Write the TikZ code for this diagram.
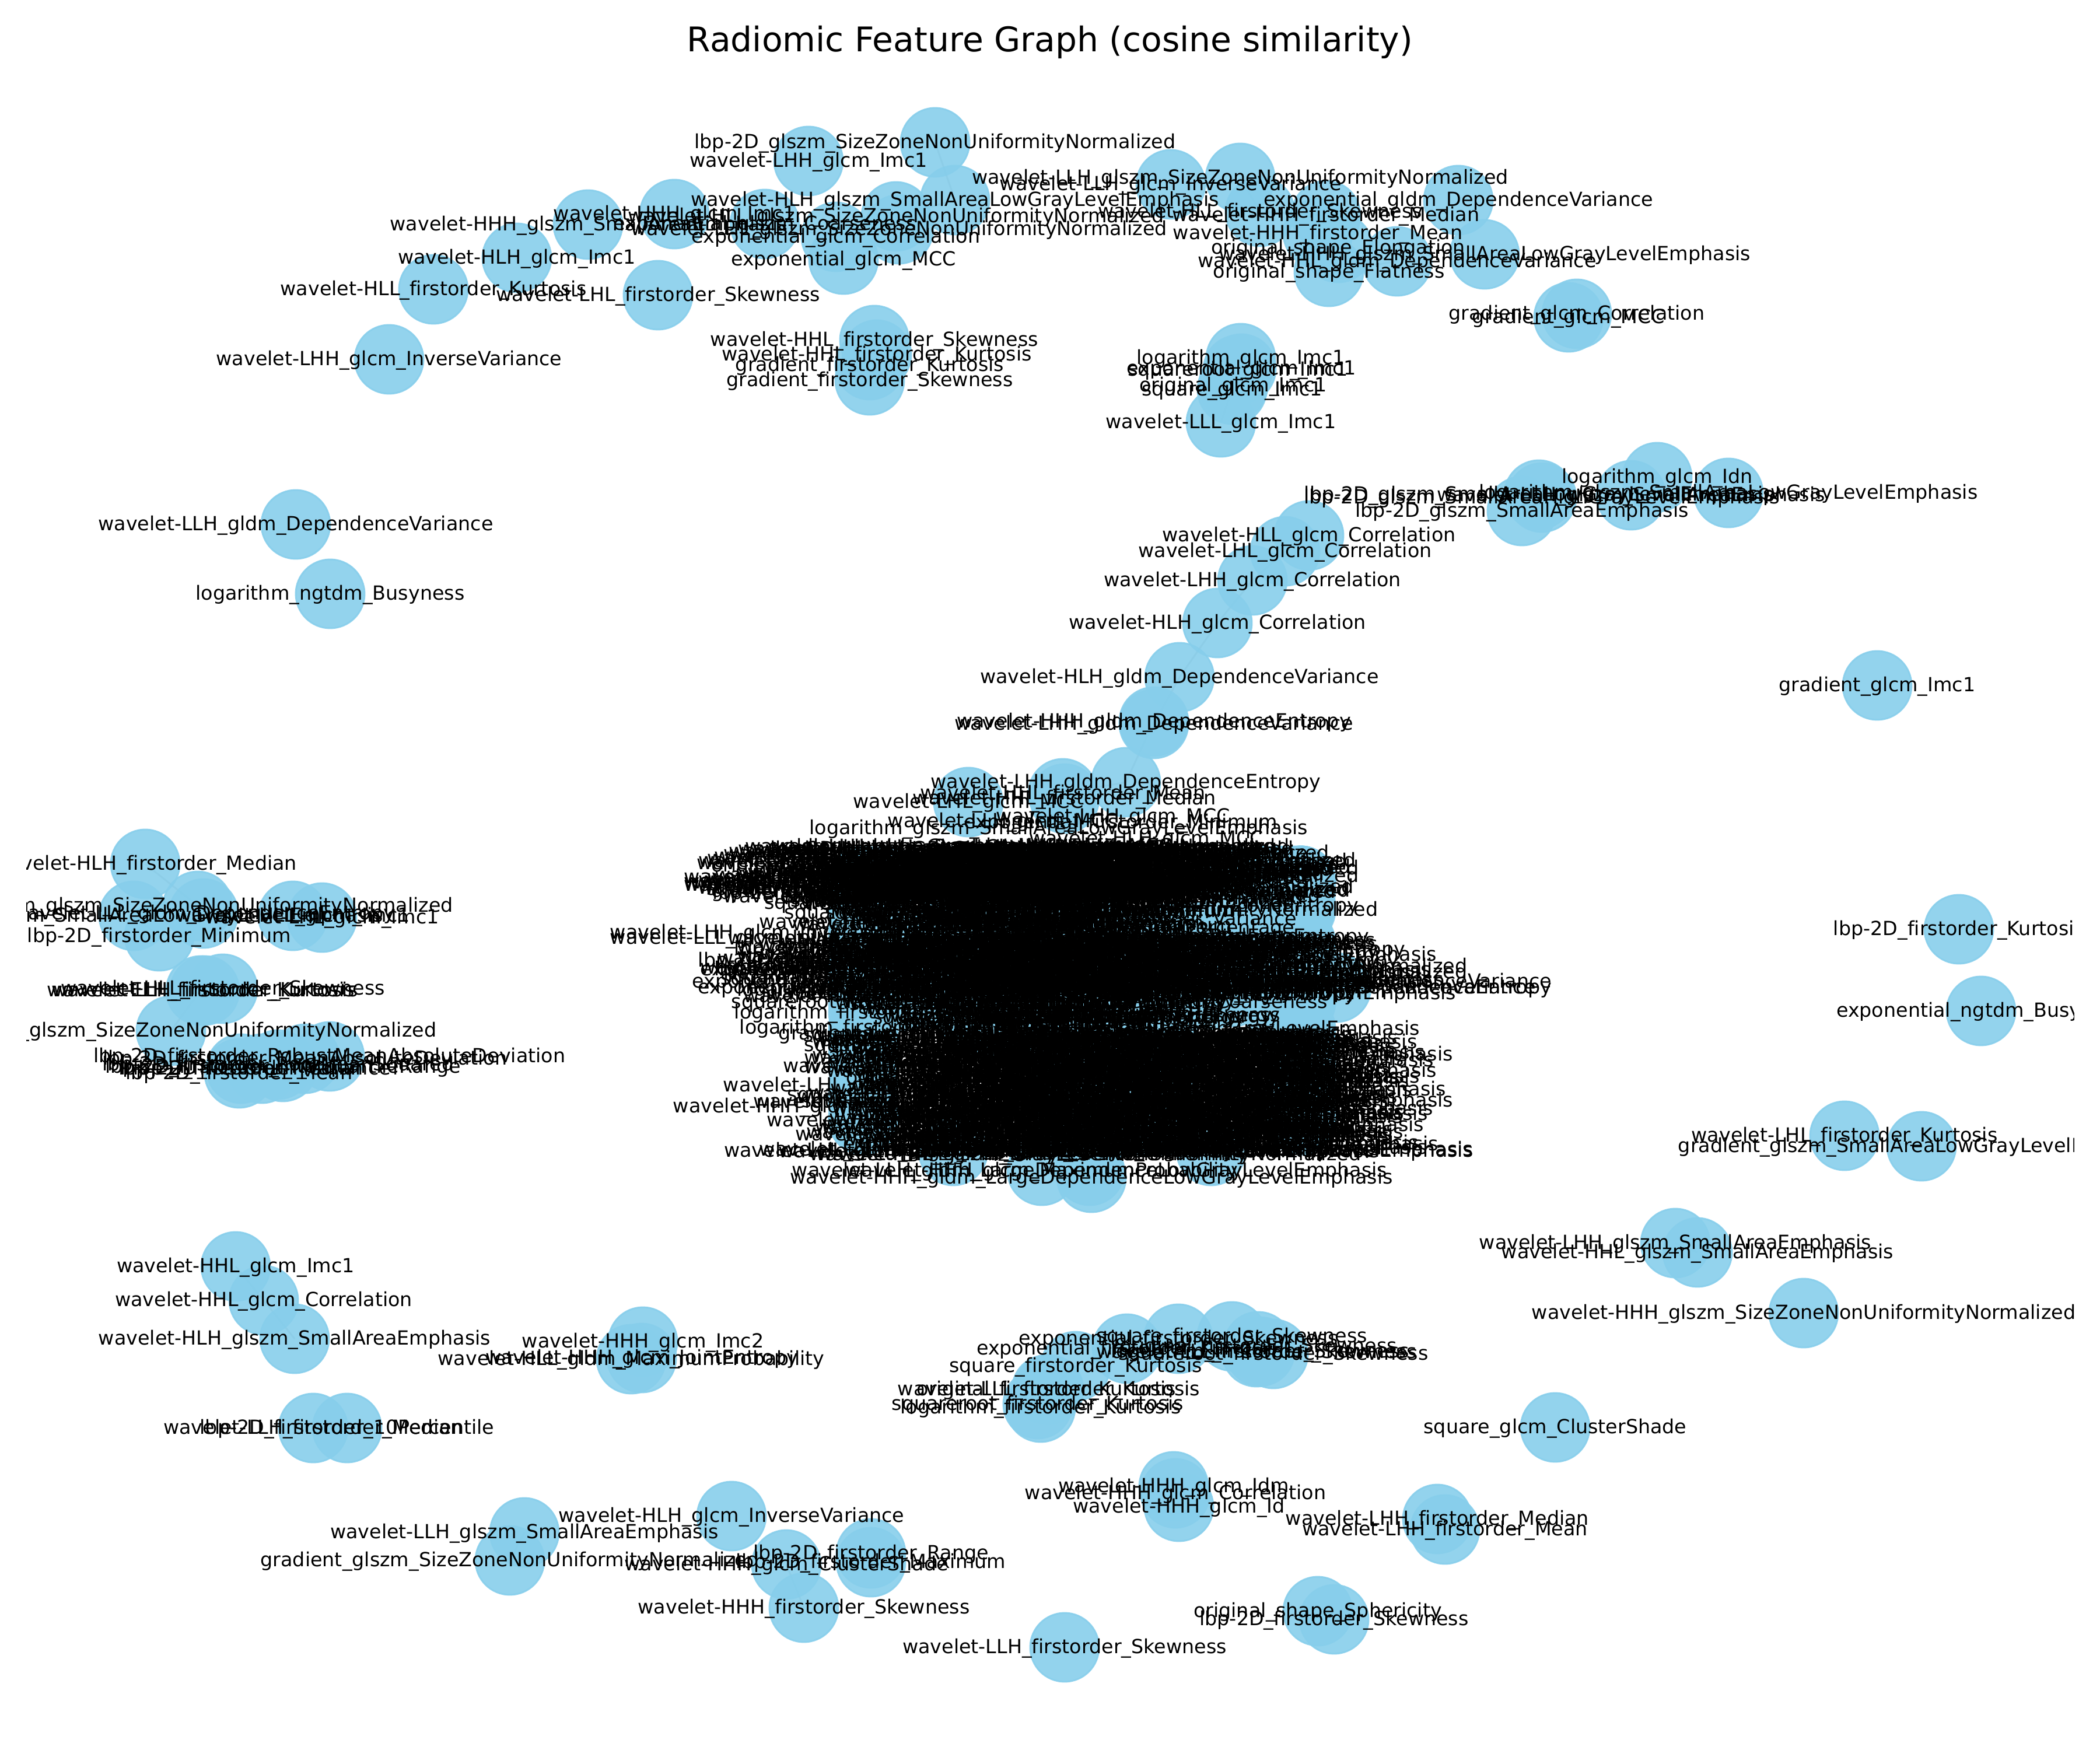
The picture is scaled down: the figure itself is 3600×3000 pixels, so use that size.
\documentclass[tikz,border=0pt]{standalone}
\usepackage{fontspec}
\usetikzlibrary{calc}
\newfontfamily\lblf[Ligatures=NoCommon]{DejaVu Sans}
\newcommand\lblfont{\lblf\fontsize{8.03}{9}\selectfont}
\newcommand\ttlfont{\lblf\fontsize{14.05}{16}\selectfont}
\catcode`\_=12
\definecolor{skyb}{HTML}{87CEEB}
\pgfdeclarelayer{edges}
\pgfsetlayers{edges,main}
\tikzset{
  ncirc/.style={circle,minimum size=28.3bp,inner sep=0pt,fill=skyb,draw=skyb,line width=0.7bp,fill opacity=.9,draw opacity=.9},
  lbl/.style={font=\lblfont,inner sep=0pt,text=black,text height=.76em,text depth=.24em},
  edgeline/.style={draw=gray,line width=0.7bp,opacity=.45},
}
% id/x/y/text : nodes whose position is known
\def\mainlist{%
a1/1603/244/lbp-2D_glszm_SizeZoneNonUniformityNormalized,
a2/1386/276/wavelet-LHH_glcm_Imc1,
a3/1637/343/wavelet-HLH_glszm_SmallAreaLowGrayLevelEmphasis,
a4/1156/367/wavelet-HHH_glcm_Imc1,
a5/1008/385/wavelet-HHH_glszm_SmallAreaEmphasis,
a6/886/442/wavelet-HLH_glcm_Imc1,
a7/743/496/wavelet-HLL_firstorder_Kurtosis,
a8/1128/506/wavelet-LHL_firstorder_Skewness,
a9/667/616/wavelet-LHH_glcm_InverseVariance,
a10/1446/445/exponential_glcm_MCC,
a11/1536/371/wavelet-HLL_glszm_SizeZoneNonUniformityNormalized,
a12/1541/393/wavelet-LHL_glszm_SizeZoneNonUniformityNormalized,
a13/1311/384/exponential_glszm_Coarseness,
a14/1433/406/exponential_glcm_Correlation,
c1/1499/583/wavelet-HHL_firstorder_Skewness,
c2/1503/608/wavelet-HHL_firstorder_Kurtosis,
c3/1491/626/gradient_firstorder_Kurtosis,
c4/1491/652/gradient_firstorder_Skewness,
d1/2126/305/wavelet-LLH_glszm_SizeZoneNonUniformityNormalized,
d2/2007/316/wavelet-LLH_glcm_InverseVariance,
d3/2500/343/exponential_gldm_DependenceVariance,
d4/2160/363/wavelet-HLL_firstorder_Skewness,
d5/2273/369/wavelet-HHH_firstorder_Median,
d6/2259/400/wavelet-HHH_firstorder_Mean,
d7/2294/425/original_shape_Elongation,
d8/2545/436/wavelet-HHH_glszm_SmallAreaLowGrayLevelEmphasis,
d9/2395/448/wavelet-HHL_gldm_DependenceVariance,
d10/2278/466/original_shape_Flatness,
e1/2703/538/gradient_glcm_Correlation,
e2/2689/544/gradient_glcm_MCC,
f1/2127/614/logarithm_glcm_Imc1,
f2/2128/632/exponential_glcm_Imc1,
f3/2122/634/squareroot_glcm_Imc1,
f4/2114/661/original_glcm_Imc1,
f5/2112/668/square_glcm_Imc1,
f6/2093/724/wavelet-LLL_glcm_Imc1,
g1/2841/818/logarithm_glcm_Idn,
g2/2963/845/logarithm_glszm_SmallAreaLowGrayLevelEmphasis,
g3/2643/853/lbp-2D_glszm_SmallAreaHighGrayLevelEmphasis,
g4/2638/848/lbp-2D_glszm_SmallAreaLowGrayLevelEmphasis,
g5/2796/849/wavelet-LLH_glszm_SmallAreaEmphasis,
g6/2609/876/lbp-2D_glszm_SmallAreaEmphasis,
h1/2244/918/wavelet-HLL_glcm_Correlation,
h2/2203/945/wavelet-LHL_glcm_Correlation,
h3/2147/995/wavelet-LHH_glcm_Correlation,
h4/2087/1068/wavelet-HLH_glcm_Correlation,
h5/2022/1161/wavelet-HLH_gldm_DependenceVariance,
h6/1978/1241/wavelet-LHH_gldm_DependenceVariance,
h6b/1978/1237/wavelet-HHH_gldm_DependenceEntropy,
h7/1930/1341/wavelet-LHH_gldm_DependenceEntropy,
h8/1822/1360/wavelet-HHL_firstorder_Mean,
h9/1825/1369/wavelet-HHL_firstorder_Median,
i1/507/899/wavelet-LLH_gldm_DependenceVariance,
i2/566/1018/logarithm_ngtdm_Busyness,
j1/3218/1175/gradient_glcm_Imc1,
j2/3358/1593/lbp-2D_firstorder_Kurtosis,
j3/3396/1733/exponential_ngtdm_Busyness,
j4/3162/1947/wavelet-LHL_firstorder_Kurtosis,
j5/3294/1965/gradient_glszm_SmallAreaLowGrayLevelEmphasis,
j6/2872/2131/wavelet-LHH_glszm_SmallAreaEmphasis,
j7/2910/2147/wavelet-HHL_glszm_SmallAreaEmphasis,
j8/3092/2251/wavelet-HHH_glszm_SizeZoneNonUniformityNormalized,
j9/2666/2447/square_glcm_ClusterShade,
j10/2464/2604/wavelet-LHH_firstorder_Median,
j11/2477/2622/wavelet-LHH_firstorder_Mean,
j12/2259/2762/original_shape_Sphericity,
j13/2287/2776/lbp-2D_firstorder_Skewness,
k1/249/1481/wavelet-HLH_firstorder_Median,
k2/229/1570/logarithm_glszm_SmallAreaLowGrayLevelEmphasis,
k3/339/1553/logarithm_glszm_SizeZoneNonUniformityNormalized,
k4/349/1566/wavelet-LLL_gldm_DependenceEntropy,
k5/502/1570/wavelet-HLL_glcm_Imc1,
k6/552/1573/wavelet-LHL_glcm_Imc1,
k7/273/1605/lbp-2D_firstorder_Minimum,
k8/382/1695/wavelet-HLL_firstorder_Skewness,
k9/351/1698/wavelet-LLH_firstorder_Kurtosis,
k10/344/1698/wavelet-ELH_firstorder_Kurtosis,
k11/293/1767/exponential_glszm_SizeZoneNonUniformityNormalized,
k12/565/1811/lbp-2D_firstorder_RobustMeanAbsoluteDeviation,
k13/523/1815/lbp-2D_firstorder_MeanAbsoluteDeviation,
k14/485/1829/lbp-2D_firstorder_InterquartileRange,
k15/477/1825/lbp-2D_firstorder_RootMeanSquared,
k16/449/1832/lbp-2D_firstorder_Variance,
k17/413/1832/lbp-2D_firstorder_Median,
k18/410/1840/lbp-2D_firstorder_Mean,
m1/404/2171/wavelet-HHL_glcm_Imc1,
m2/452/2229/wavelet-HHL_glcm_Correlation,
m3/505/2295/wavelet-HLH_glszm_SmallAreaEmphasis,
m4/1102/2300/wavelet-HHH_glcm_Imc2,
m5/1082/2330/wavelet-HLL_gldm_MaximumProbability,
m6/1100/2328/wavelet-HHH_glcm_JointEntropy,
m7/595/2448/lbp-2D_firstorder_10Percentile,
m8/537/2448/wavelet-LLH_firstorder_Median,
m9/1254/2599/wavelet-HLH_glcm_InverseVariance,
m10/899/2627/wavelet-LLH_glszm_SmallAreaEmphasis,
m11/874/2675/gradient_glszm_SizeZoneNonUniformityNormalized,
m12/1493/2663/lbp-2D_firstorder_Range,
m13/1493/2678/lbp-2D_firstorder_Maximum,
m14/1348/2682/wavelet-HHH_glcm_ClusterShade,
m15/1378/2756/wavelet-HHH_firstorder_Skewness,
m16/1825/2824/wavelet-LLH_firstorder_Skewness,
p1/1932/2312/exponential_firstorder_Kurtosis,
p2/2020/2295/exponential_firstorder_Skewness,
p3/2112/2291/square_firstorder_Skewness,
p4/2154/2318/wavelet-LLL_firstorder_Skewness,
p5/2183/2321/squareroot_firstorder_Skewness,
p6/2157/2308/original_firstorder_Skewness,
p7/2160/2317/logarithm_firstorder_Skewness,
p8/1844/2342/square_firstorder_Kurtosis,
p9/1798/2382/wavelet-LLL_firstorder_Kurtosis,
p10/1794/2382/original_firstorder_Kurtosis,
p11/1779/2407/squareroot_firstorder_Kurtosis,
p12/1784/2413/logarithm_firstorder_Kurtosis,
p13/2012/2548/wavelet-HHH_glcm_Idm,
p14/2015/2560/wavelet-HHH_glcm_Correlation,
p15/2021/2583/wavelet-HHH_glcm_Id,
q1/1871/2019/wavelet-HHH_gldm_LargeDependenceLowGrayLevelEmphasis,
q2/1786/2007/wavelet-HHH_glcm_MaximumProbability,
q3/2076/1973/wavelet-HLL_glszm_SmallAreaLowGrayLevelEmphasis,
q4/1634/1973/wavelet-LHL_gldm_SmallDependenceEmphasis,
q5/1868/2007/wavelet-LLH_gldm_LargeDependenceLowGrayLevelEmphasis,
q6/2291/1693/wavelet-LHH_gldm_DependenceVariance,
q7/2205/1680/wavelet-LHL_ngtdm_Coarseness,
q8/1660/1375/wavelet-LHL_glcm_MCC}
% rows of the central mass: free start x / y / text
\def\leftrows{%
1291/1456/wavelet-HHL_glszm_SizeZoneNonUniformityNormalized,
1315/1463/wavelet-LLH_gldm_DependenceNonUniformityNormalized,
1325/1476/gradient_glszm_GrayLevelNonUniformityNormalized,
1172/1504/wavelet-LLH_glszm_SizeZoneNonUniformityNormalized,
1172/1512/wavelet-HLL_glrlm_RunLengthNonUniformityNormalized,
1196/1522/wavelet-LHL_glrlm_RunLengthNonUniformity,
1239/1537/wavelet-HHL_glcm_ClusterProminence,
1344/1565/square_glrlm_ShortRunEmphasis,
1301/1581/wavelet-HHH_firstorder_Range,
1045/1599/wavelet-LHH_glcm_InverseVariance,
1045/1608/wavelet-LLL_glcm_InverseVariance,
1258/1627/lbp-2D_gldm_DependenceEntropy,
1196/1647/lbp-2D_glrlm_RunEntropy,
1200/1662/exponential_firstorder_Entropy,
1186/1683/exponential_glszm_ZoneEntropy,
1196/1693/exponential_glrlm_RunEntropy,
1253/1718/squareroot_firstorder_Uniformity,
1258/1736/logarithm_firstorder_Energy,
1267/1762/logarithm_firstorder_Entropy,
1334/1772/gradient_firstorder_Entropy,
1378/1792/square_firstorder_Uniformity,
1392/1810/wavelet-HLH_glcm_Idmn,
1378/1830/wavelet-LHL_glcm_Idn,
1239/1861/wavelet-LHL_glszm_SmallAreaHighGrayLevelEmphasis,
1349/1877/square_glrlm_ShortRunEmphasis,
1291/1889/wavelet-LHL_glcm_JointEnergy,
1153/1897/wavelet-HHH_gldm_LargeDependenceEmphasis,
1421/1917/wavelet-HHL_glcm_Idm,
1397/1933/wavelet-HLH_glcm_Id,
1363/1945/wavelet-LLH_glrlm_RunVariance,
1301/1971/wavelet-LLL_glszm_LargeAreaLowGrayLevelEmphasis,
1387/1979/wavelet-HHL_glszm_GrayLevelNonUniformity,
1521/1408/wavelet-LLH_glcm_MCC}
% rows of the central mass: free end x / y / text
\def\rightrows{%
2110/1400/wavelet-LHH_glcm_MCC,
2191/1410/exponential_firstorder_Minimum,
2243/1420/logarithm_glszm_SmallAreaLowGrayLevelEmphasis,
2167/1438/wavelet-HLH_glcm_MCC,
2220/1461/wavelet-LLL_glcm_Correlation,
2243/1463/wavelet-HHL_gldm_DependenceVariance,
2325/1476/wavelet-LLL_glszm_SizeZoneNonUniformityNormalized,
2330/1489/wavelet-HHH_glrlm_RunLengthNonUniformityNormalized,
2330/1502/wavelet-LHH_gldm_DependenceNonUniformityNormalized,
2315/1527/wavelet-HLH_glszm_GrayLevelNonUniformityNormalized,
2330/1553/original_glszm_ZoneEntropy,
2363/1560/squareroot_glszm_GrayLevelNonUniformityNormalized,
2224/1576/wavelet-HHH_firstorder_Variance,
2220/1591/wavelet-HLH_gldm_ZonePercentage,
2296/1616/wavelet-LLL_glszm_SmallAreaEmphasis,
2363/1619/wavelet-HHL_glrlm_ShortRunEmphasis,
2464/1637/wavelet-HLL_glszm_SmallAreaHighGrayLevelEmphasis,
2516/1657/wavelet-LHH_gldm_DependenceNonUniformityNormalized,
2516/1667/wavelet-LLL_glrlm_RunLengthNonUniformityNormalized,
2661/1683/wavelet-LHL_gldm_DependenceVariance,
2661/1693/wavelet-LHL_gldm_DependenceEntropy,
2497/1703/wavelet-HLL_glrlm_ShortRunEmphasis,
2277/1718/wavelet-LHH_ngtdm_Coarseness,
2196/1741/wavelet-HHL_ngtdm_Busyness,
2435/1764/logarithm_glrlm_ShortRunHighGrayLevelEmphasis,
2397/1780/wavelet-LHL_glrlm_ShortRunEmphasis,
2444/1805/wavelet-HHH_glrlm_ShortRunHighGrayLevelEmphasis,
2459/1818/wavelet-HLH_glrlm_ShortRunHighGrayLevelEmphasis,
2464/1836/wavelet-LHL_glszm_SmallAreaHighGrayLevelEmphasis,
2435/1846/wavelet-LLH_glszm_HighGrayLevelZoneEmphasis,
2373/1861/wavelet-HLL_glszm_SizeZoneNonUniformityNormalized,
2492/1887/wavelet-HHL_glszm_SmallAreaHighGrayLevelEmphasis,
2449/1910/wavelet-LHL_gldm_SmallDependenceEmphasis,
2325/1933/wavelet-HLH_glcm_DifferenceEntropy,
2387/1945/wavelet-LHH_glrlm_LongRunEmphasis,
2526/1971/wavelet-HLH_glszm_LargeAreaLowGrayLevelEmphasis,
2334/1979/wavelet-HHH_gldm_GrayLevelNonUniformityNormalized}
\def\imgs{wavelet-LLH,wavelet-LHL,wavelet-LHH,wavelet-HLL,wavelet-HLH,wavelet-HHL,wavelet-HHH,wavelet-LLL,original,exponential,logarithm,square,squareroot,gradient,lbp-2D}
\def\featA{glcm_ClusterProminence,glszm_GrayLevelNonUniformityNormalized,gldm_DependenceNonUniformityNormalized,glrlm_RunLengthNonUniformityNormalized,glcm_MCC,firstorder_Range,ngtdm_Strength,glcm_JointEntropy}
\def\featAb{glcm_Imc2,firstorder_Maximum}
\def\featB{firstorder_Entropy,firstorder_Uniformity,glrlm_RunEntropy,glszm_ZoneEntropy,gldm_DependenceEntropy,ngtdm_Coarseness,glrlm_ShortRunEmphasis,glszm_SmallAreaEmphasis}
\def\featBb{firstorder_Energy,glcm_Id}
\def\featC{glszm_LargeAreaHighGrayLevelEmphasis,glszm_LowGrayLevelZoneEmphasis,glrlm_LongRunLowGrayLevelEmphasis,glrlm_ShortRunHighGrayLevelEmphasis,gldm_LargeDependenceEmphasis,gldm_SmallDependenceHighGrayLevelEmphasis,glszm_ZonePercentage,glrlm_GrayLevelVariance,glcm_Idmn,ngtdm_Contrast}
\newcount\blobn
% keep circles of the central mass inside the black area
\newcommand\keepin[2]{%
  \pgfmathsetmacro\kx{max(1480,min(2230,#1))}%
  \pgfmathsetmacro\ky{max(1510,min(1920,#2))}%
}
% pass (0 circles, 1 labels), x0, x1, y0, y1, feature list
\newcommand\blobband[6]{%
  \foreach \im in \imgs {\foreach \fe in #6 {%
    \global\advance\blobn by 1
    \pgfmathsetmacro\ux{mod(\the\blobn*0.618034,1)}%
    \pgfmathsetmacro\uy{mod(\the\blobn*0.754878,1)}%
    \pgfmathsetmacro\bx{#2+\ux*(#3-#2)}%
    \pgfmathsetmacro\by{#4+\uy*(#5-#4)}%
    \ifnum#1=0 \keepin{\bx}{\by}\node[ncirc] (bc\the\blobn) at (\kx,\ky) {};%
    \else \node[lbl] (bl\the\blobn) at (\bx,\by) {\im_\fe};\fi
  }}%
}
\newcommand\blobpass[1]{%
  \global\blobn=0
  \blobband{#1}{1640}{1860}{1450}{1550}{\featA}%
  \blobband{#1}{1620}{1880}{1555}{1600}{\featAb}%
  \blobband{#1}{1500}{2150}{1605}{1708}{\featB}%
  \blobband{#1}{1640}{1950}{1712}{1760}{\featBb}%
  \blobband{#1}{1830}{2000}{1768}{1975}{\featC}%
}
\begin{document}
\begin{tikzpicture}[x=0.24bp,y=-0.24bp]
\useasboundingbox (0,0) rectangle (3600,3000);
% circles
\foreach \nid/\x/\y/\txt in \mainlist { \node[ncirc] (\nid) at (\x,\y) {}; }
\blobpass{0}
\foreach \x/\y/\txt [count=\i] in \leftrows {%
  \setbox0=\hbox{\lblfont\txt}%
  \pgfmathsetmacro\cx{\x+0.5*\the\wd0/0.2409}%
  \keepin{\cx}{\y}\node[ncirc] (lc\i) at (\kx,\ky) {};}
\foreach \x/\y/\txt [count=\i] in \rightrows {%
  \setbox0=\hbox{\lblfont\txt}%
  \pgfmathsetmacro\cx{\x-0.5*\the\wd0/0.2409}%
  \keepin{\cx}{\y}\node[ncirc] (rc\i) at (\kx,\ky) {};}
% connectors
\begin{pgfonlayer}{edges}
\foreach \p/\q in {a1/a3,a3/a11,a11/a12,a12/a14,a14/a10,a13/a14,
  c1/c2,c2/c3,c3/c4,d1/d4,d4/d5,d5/d6,d6/d7,d7/d9,d9/d10,e1/e2,f1/f2,f2/f3,f3/f4,f4/f5,f5/f6,
  g1/g5,g4/g3,g3/g6,h1/h2,h2/h3,h3/h4,h4/h5,h5/h6,h6/h6b,h6b/h7,h7/h8,h8/h9,
  j4/j5,j6/j7,j10/j11,j12/j13,k1/k3,k2/k3,k3/k4,k2/k7,k5/k6,k8/k9,k9/k10,k10/k11,k12/k13,k13/k14,k14/k15,k15/k16,k16/k17,k17/k18,
  m1/m2,m2/m3,m4/m5,m5/m6,m7/m8,m10/m11,m12/m13,m14/m15,
  p1/p2,p2/p3,p3/p4,p4/p5,p5/p6,p6/p7,p1/p8,p8/p9,p9/p10,p10/p11,p11/p12,p13/p14,p14/p15,q1/q2,q1/q5,q6/q7,lc12/rc14}
  { \draw[edgeline] (\p.center) -- (\q.center); }
\end{pgfonlayer}
% labels, cut at the axes box as in the reference
\begin{scope}
\clip (45,0) rectangle (3555,3000);
\foreach \nid/\x/\y/\txt in \mainlist { \node[lbl] (t\nid) at (\x,\y) {\txt}; }
\blobpass{1}
\foreach \x/\y/\txt [count=\i] in \leftrows { \node[lbl,anchor=west] (ll\i) at (\x,\y) {\txt}; }
\foreach \x/\y/\txt [count=\i] in \rightrows { \node[lbl,anchor=east] (rl\i) at (\x,\y) {\txt}; }
\end{scope}
\node[font=\ttlfont,inner sep=0pt,anchor=base] (title) at (1800,89) {Radiomic Feature Graph (cosine similarity)};
\end{tikzpicture}
\end{document}
